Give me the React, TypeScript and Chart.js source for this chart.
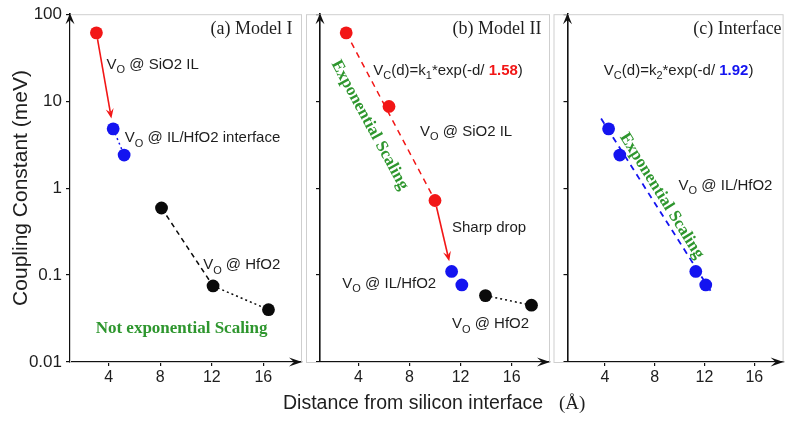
import { useEffect, useRef } from 'react';
import { Chart, registerables } from 'chart.js';
Chart.register(...registerables);

// ---------- data ----------
const xTicks = [4, 8, 12, 16];
const yTicks = [0.01, 0.1, 1, 10, 100];

const modelIRed = [{ x: 3.05, y: 61 }];
const modelIBlue = [{ x: 4.35, y: 4.8 }, { x: 5.2, y: 2.4 }];
const modelIBlack = [{ x: 8.1, y: 0.59 }, { x: 12.1, y: 0.075 }, { x: 16.4, y: 0.04 }];

const modelIIRed = [{ x: 3.05, y: 61 }, { x: 6.4, y: 8.7 }, { x: 10.0, y: 0.72 }];
const modelIIBlue = [{ x: 11.3, y: 0.11 }, { x: 12.1, y: 0.077 }];
const modelIIBlack = [{ x: 13.95, y: 0.058 }, { x: 17.55, y: 0.045 }];
const modelIIFit = [{ x: 3.05, y: 61 }, { x: 10.0, y: 0.72 }];

const interfaceBlue = [{ x: 4.3, y: 4.8 }, { x: 5.2, y: 2.4 }, { x: 11.3, y: 0.11 }, { x: 12.1, y: 0.077 }];
const interfaceFit = [{ x: 3.7, y: 6.3 }, { x: 12.6, y: 0.062 }];

const modelIArrow = [modelIRed[0], modelIBlue[0]];
const modelIIArrow = [modelIIRed[2], modelIIBlue[0]];

// ---------- styles ----------
const RED = '#f21616';
const BLUE = '#1414f0';
const BLACK = '#0a0a0a';
const GREEN = '#2e962e';
const TEXT = '#1e1e1e';
const SANS = '"Liberation Sans", Arial, sans-serif';
const SERIF = '"Liberation Serif", "Times New Roman", serif';
const PR = 6.4;

type Part = { t: string; sub?: boolean; bold?: boolean; color?: string };
type Label = {
  x: number; y: number; parts: Part[];
  align?: 'left' | 'right' | 'center'; serif?: boolean; size?: number;
  bold?: boolean; color?: string; angle?: number;
};

const vo = (rest: string): Part[] => [{ t: 'V' }, { t: 'O', sub: true }, { t: rest }];

function drawRich(ctx: CanvasRenderingContext2D, px: number, py: number, lab: Label) {
  const size = lab.size ?? 15;
  const fam = lab.serif ? SERIF : SANS;
  const fontFor = (p: Part) =>
    `${p.bold || lab.bold ? 'bold ' : ''}${p.sub ? Math.round(size * 0.7) : size}px ${fam}`;
  let w = 0;
  const ws = lab.parts.map((p) => {
    ctx.font = fontFor(p);
    const m = ctx.measureText(p.t).width;
    w += m;
    return m;
  });
  ctx.save();
  ctx.translate(px, py);
  if (lab.angle) ctx.rotate((lab.angle * Math.PI) / 180);
  let x0 = lab.align === 'right' ? -w : lab.align === 'center' ? -w / 2 : 0;
  const base = size * 0.36;
  ctx.textAlign = 'left';
  ctx.textBaseline = 'alphabetic';
  lab.parts.forEach((p, i) => {
    ctx.font = fontFor(p);
    ctx.fillStyle = p.color || lab.color || TEXT;
    ctx.fillText(p.t, x0, base + (p.sub ? size * 0.3 : 0));
    x0 += ws[i];
  });
  ctx.restore();
}

function dart(ctx: CanvasRenderingContext2D, x: number, y: number, ang: number, L: number, W: number) {
  ctx.save();
  ctx.translate(x, y);
  ctx.rotate(ang);
  ctx.beginPath();
  ctx.moveTo(0, 0);
  ctx.lineTo(-L, -W);
  ctx.lineTo(-L * 0.62, 0);
  ctx.lineTo(-L, W);
  ctx.closePath();
  ctx.fill();
  ctx.restore();
}

type Panel = {
  left: number; right: number; xMax: number; showYLabels: boolean; frameLeftOffset: number;
  datasets: any[]; labels: Label[]; arrows: { x: number; y: number }[][];
  extra?: (ctx: CanvasRenderingContext2D) => void;
};

const pointSet = (data: any[], color: string) => ({
  data, backgroundColor: color, borderWidth: 0, pointRadius: PR, pointHoverRadius: PR, showLine: false, order: 0,
});
const lineSet = (data: any[], color: string, dash: number[], width = 1.5) => ({
  data, borderColor: color, borderWidth: width, borderDash: dash, pointRadius: 0, pointHoverRadius: 0,
  showLine: true, order: 1,
});

const panels: Panel[] = [
  {
    left: 70, right: 302, xMax: 19, showYLabels: true, frameLeftOffset: 0,
    datasets: [
      pointSet(modelIRed, RED),
      pointSet(modelIBlue, BLUE),
      pointSet(modelIBlack, BLACK),
      lineSet(modelIBlue, BLUE, [2, 3]),
      {
        ...lineSet(modelIBlack, BLACK, []),
        segment: { borderDash: (c: any) => (c.p0DataIndex === 0 ? [5, 4] : [2, 3]) },
      },
    ],
    arrows: [modelIArrow],
    labels: [
      { x: 18.26, y: 69.5, align: 'right', serif: true, size: 18, parts: [{ t: '(a) Model I' }] },
      { x: 3.84, y: 27.2, parts: vo(' @ SiO2 IL') },
      { x: 5.25, y: 3.87, parts: vo(' @ IL/HfO2 interface') },
      { x: 11.33, y: 0.135, parts: vo(' @ HfO2') },
      { x: 2.99, y: 0.0255, serif: true, bold: true, size: 17, color: GREEN, parts: [{ t: 'Not exponential Scaling' }] },
    ],
    extra: (ctx) => {
      ctx.save();
      ctx.translate(21, 188);
      ctx.rotate(-Math.PI / 2);
      ctx.font = `21px ${SANS}`;
      ctx.fillStyle = TEXT;
      ctx.textAlign = 'center';
      ctx.textBaseline = 'middle';
      ctx.fillText('Coupling Constant (meV)', 0, 0);
      ctx.restore();
    },
  },
  {
    left: 320, right: 550, xMax: 19, showYLabels: false, frameLeftOffset: 14,
    datasets: [
      pointSet(modelIIRed, RED),
      pointSet(modelIIBlue, BLUE),
      pointSet(modelIIBlack, BLACK),
      lineSet(modelIIFit, RED, [6, 5]),
      lineSet(modelIIBlack, BLACK, [2, 3]),
    ],
    arrows: [modelIIArrow],
    labels: [
      { x: 18.34, y: 69.5, align: 'right', serif: true, size: 18, parts: [{ t: '(b) Model II' }] },
      {
        x: 5.17, y: 23.3,
        parts: [{ t: 'V' }, { t: 'C', sub: true }, { t: '(d)=k' }, { t: '1', sub: true }, { t: '*exp(-d/ ' },
          { t: '1.58', bold: true, color: RED }, { t: ')' }],
      },
      { x: 8.83, y: 4.64, parts: vo(' @ SiO2 IL') },
      { x: 5.01, y: 5.42, align: 'center', angle: 61.4, serif: true, bold: true, size: 17, color: GREEN, parts: [{ t: 'Exponential Scaling' }] },
      { x: 11.33, y: 0.362, parts: [{ t: 'Sharp drop' }] },
      { x: 2.75, y: 0.0822, parts: vo(' @ IL/HfO2') },
      { x: 11.33, y: 0.0283, parts: vo(' @ HfO2') },
    ],
    extra: (ctx) => {
      ctx.save();
      ctx.fillStyle = TEXT;
      ctx.textAlign = 'left';
      ctx.textBaseline = 'middle';
      ctx.font = `19.5px ${SANS}`;
      ctx.fillText('Distance from silicon interface', 283, 404);
      ctx.font = `19px ${SERIF}`;
      ctx.fillText('(Å)', 559, 404);
      ctx.restore();
    },
  },
  {
    left: 567.5, right: 790, xMax: 18.35, showYLabels: false, frameLeftOffset: 14,
    datasets: [
      pointSet(interfaceBlue, BLUE),
      lineSet(interfaceFit, BLUE, [6, 5], 1.8),
    ],
    arrows: [],
    labels: [
      { x: 18.19, y: 69.5, align: 'right', serif: true, size: 18, parts: [{ t: '(c) Interface' }] },
      {
        x: 3.92, y: 23.3,
        parts: [{ t: 'V' }, { t: 'C', sub: true }, { t: '(d)=k' }, { t: '2', sub: true }, { t: '*exp(-d/ ' },
          { t: '1.92', bold: true, color: BLUE }, { t: ')' }],
      },
      { x: 9.92, y: 1.11, parts: vo(' @ IL/HfO2') },
      { x: 8.68, y: 0.834, align: 'center', angle: 58, serif: true, bold: true, size: 17, color: GREEN, parts: [{ t: 'Exponential Scaling' }] },
    ],
  },
];

function makeChart(canvas: HTMLCanvasElement, p: Panel) {
  const deco = {
    id: 'deco',
    beforeDatasetsDraw(chart: any) {
      const ctx = chart.ctx as CanvasRenderingContext2D;
      const a = chart.chartArea;
      const xs = chart.scales.x;
      const ys = chart.scales.y;
      ctx.save();
      ctx.strokeStyle = '#cfcfcf';
      ctx.lineWidth = 1;
      ctx.strokeRect(a.left - p.frameLeftOffset + 0.5, a.top + 0.5, a.right - a.left + p.frameLeftOffset - 1, a.bottom - a.top);
      ctx.restore();
      ctx.save();
      ctx.strokeStyle = RED;
      ctx.fillStyle = RED;
      ctx.lineWidth = 1.6;
      p.arrows.forEach((arr) => {
        const x0 = xs.getPixelForValue(arr[0].x), y0 = ys.getPixelForValue(arr[0].y);
        const x1 = xs.getPixelForValue(arr[1].x), y1 = ys.getPixelForValue(arr[1].y);
        const d = Math.hypot(x1 - x0, y1 - y0);
        const ux = (x1 - x0) / d, uy = (y1 - y0) / d;
        const sx = x0 + ux * PR, sy = y0 + uy * PR;
        const ex = x1 - ux * (PR + 4), ey = y1 - uy * (PR + 4);
        ctx.beginPath();
        ctx.moveTo(sx, sy);
        ctx.lineTo(ex - ux * 6, ey - uy * 6);
        ctx.stroke();
        dart(ctx, ex, ey, Math.atan2(uy, ux), 10, 4);
      });
      ctx.restore();
    },
    afterDraw(chart: any) {
      const ctx = chart.ctx as CanvasRenderingContext2D;
      const a = chart.chartArea;
      const xs = chart.scales.x;
      const ys = chart.scales.y;
      ctx.save();
      ctx.fillStyle = '#111';
      dart(ctx, a.left, a.top - 1, -Math.PI / 2, 11, 4.5);
      dart(ctx, a.right, a.bottom, 0, 13, 4.5);
      ctx.restore();
      p.labels.forEach((lab) => {
        drawRich(ctx, xs.getPixelForValue(lab.x), ys.getPixelForValue(lab.y), lab);
      });
      if (p.extra) p.extra(ctx);
    },
  };

  return new Chart(canvas, {
    type: 'scatter',
    data: { datasets: p.datasets },
    options: {
      responsive: false,
      animation: false,
      events: [],
      layout: { padding: { left: p.showYLabels ? 0 : p.left, right: 790 - p.right, top: 9, bottom: 0 } },
      plugins: { legend: { display: false }, tooltip: { enabled: false } },
      scales: {
        x: {
          type: 'linear',
          min: 1,
          max: p.xMax,
          afterBuildTicks: (s: any) => { s.ticks = xTicks.map((v) => ({ value: v })); },
          afterFit: (s: any) => { s.height = 421 - 362; },
          border: { display: true, color: '#111', width: 1.6 },
          grid: { display: true, drawOnChartArea: false, drawTicks: true, tickLength: 4, color: '#111', lineWidth: 1.2 },
          ticks: { color: TEXT, font: { family: SANS, size: 16 }, padding: 2, maxRotation: 0 },
        },
        y: {
          type: 'logarithmic',
          min: 0.01,
          max: 100,
          afterBuildTicks: (s: any) => { s.ticks = yTicks.map((v) => ({ value: v })); },
          afterFit: (s: any) => { s.width = p.showYLabels ? p.left : 0; },
          border: { display: true, color: '#111', width: 1.6 },
          grid: { display: true, drawOnChartArea: false, drawTicks: true, tickLength: 4, color: '#111', lineWidth: 1.2 },
          ticks: {
            color: TEXT,
            font: { family: SANS, size: 17 },
            padding: 4,
            callback: (v: any) => (p.showYLabels ? String(v) : ''),
          },
        },
      },
    } as any,
    plugins: [deco],
  });
}

export default function App() {
  const r1 = useRef<HTMLCanvasElement>(null);
  const r2 = useRef<HTMLCanvasElement>(null);
  const r3 = useRef<HTMLCanvasElement>(null);
  useEffect(() => {
    const refs = [r1, r2, r3];
    const charts = refs.map((r, i) => makeChart(r.current as HTMLCanvasElement, panels[i]));
    return () => charts.forEach((c) => c.destroy());
  }, []);
  const cs: React.CSSProperties = { position: 'absolute', left: 0, top: 0, width: 790, height: 421 };
  return (
    <div style={{ position: 'fixed', left: 0, top: 0, width: 790, height: 421, background: '#fff', overflow: 'hidden' }}>
      <canvas ref={r1} width={790} height={421} style={cs} />
      <canvas ref={r2} width={790} height={421} style={cs} />
      <canvas ref={r3} width={790} height={421} style={cs} />
    </div>
  );
}
